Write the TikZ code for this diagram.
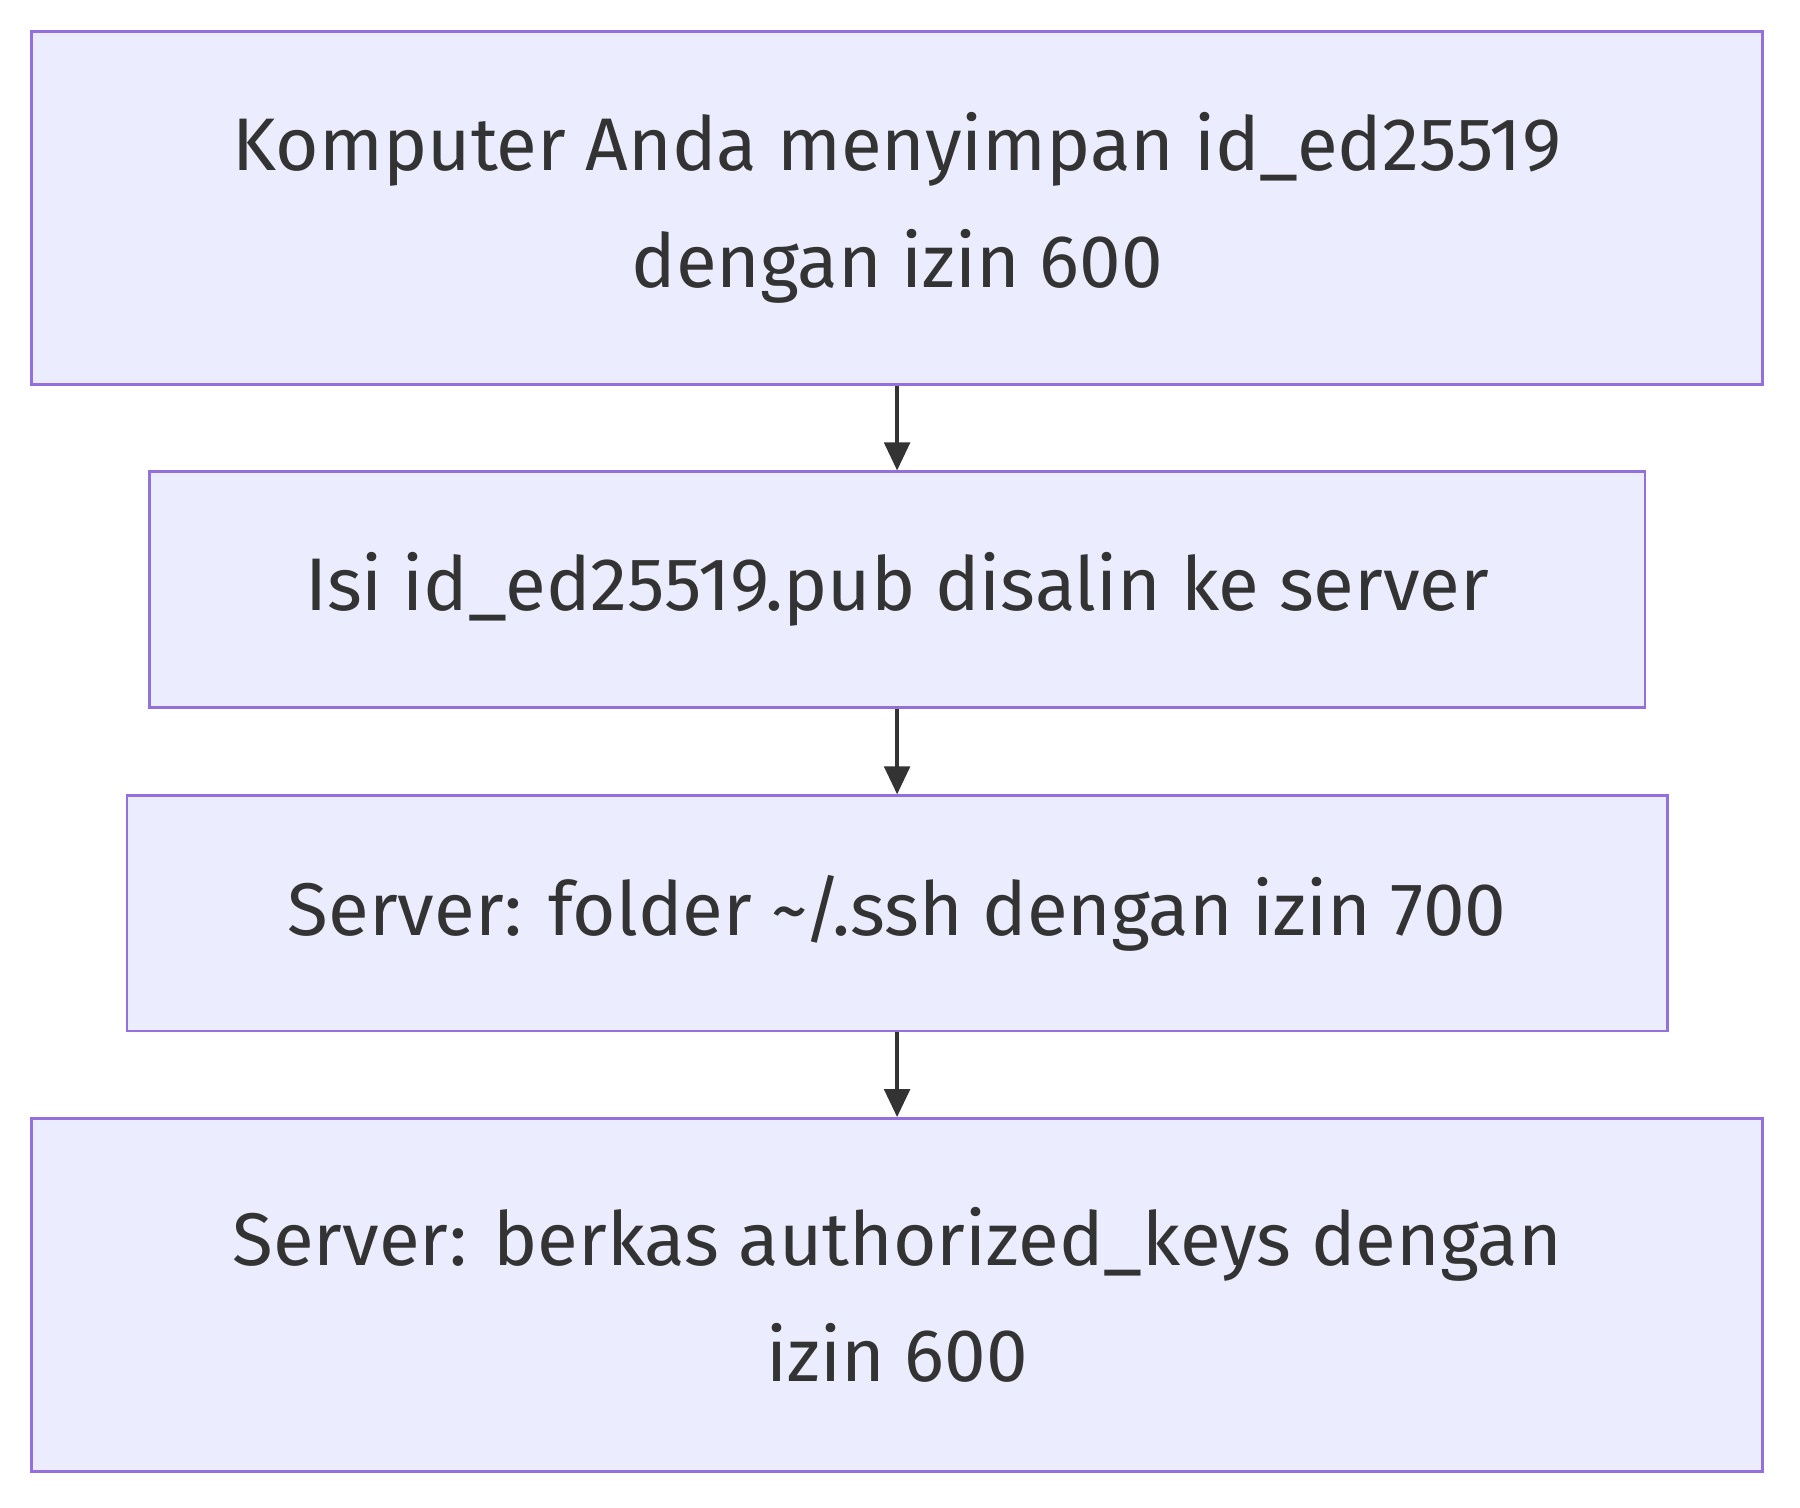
\documentclass[tikz,border=0pt]{standalone}
\usepackage{fontspec}
\setmainfont{Fira Sans}
\usetikzlibrary{arrows.meta,positioning}
\definecolor{boxfill}{HTML}{ECECFF}
\definecolor{boxline}{HTML}{9370DB}
\definecolor{ink}{HTML}{333333}
\begin{document}
\begin{tikzpicture}
   [x=0.5pt, y=-0.5pt,
    stage/.style={rectangle,draw=boxline,fill=boxfill,line width=1.2pt,
      text=ink,align=center,font=\fontsize{32}{50}\selectfont,inner sep=0pt},
    flow/.style={-{Triangle[length=12pt,width=11pt]},draw=ink,line width=1.5pt}]
   \useasboundingbox[fill=white] (0,0) rectangle (1545,1294);
   % stages
   \node (key) at (770,178.5) [stage,minimum width=743pt,minimum height=151.5pt]
     {Komputer Anda menyimpan id\_ed25519\\dengan izin 600};
   \node (pub) at (770,506) [stage,minimum width=642pt,minimum height=101pt]
     {Isi id\_ed25519.pub disalin ke server};
   \node (dir) at (770,784) [stage,minimum width=661pt,minimum height=101pt]
     {Server: folder \textasciitilde/.ssh dengan izin 700};
   \node (auth) at (770,1111.5) [stage,minimum width=743pt,minimum height=151.5pt]
     {Server: berkas authorized\_keys dengan\\izin 600};
   % arrows
   \draw [flow] (key) -- (pub);
   \draw [flow] (pub) -- (dir);
   \draw [flow] (dir) -- (auth);
\end{tikzpicture}
\end{document}
